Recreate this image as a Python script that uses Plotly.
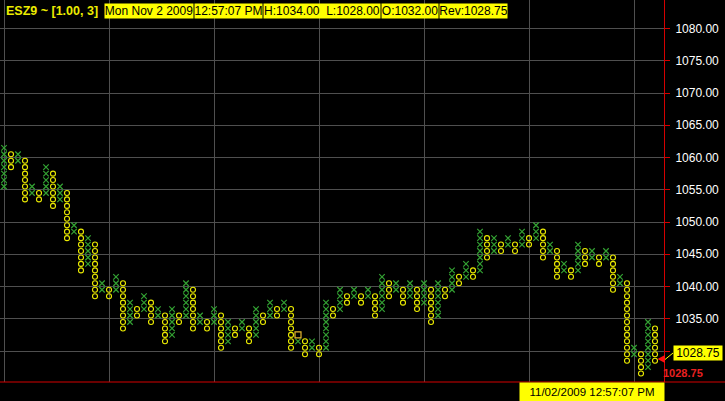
import plotly.graph_objects as go

# ---------------- data (point & figure columns, box size 1.00) ----------------
col_kind = ["X", "O"] * 47          # columns alternate, starting with X
col_low = [1055, 1058, 1059, 1053, 1054, 1053, 1054, 1052, 1053, 1047,
           1048, 1042, 1043, 1038, 1039, 1038, 1039, 1033, 1034, 1035,
           1036, 1034, 1035, 1031, 1032, 1034, 1035, 1033, 1034, 1033,
           1034, 1030, 1031, 1032, 1033, 1031, 1032, 1034, 1035, 1035,
           1036, 1030, 1031, 1029, 1030, 1029, 1030, 1035, 1036, 1037,
           1038, 1037, 1038, 1035, 1036, 1038, 1039, 1037, 1038, 1036,
           1037, 1034, 1035, 1038, 1039, 1040, 1041, 1041, 1042, 1044,
           1045, 1045, 1046, 1045, 1046, 1046, 1047, 1044, 1045, 1041,
           1042, 1041, 1042, 1043, 1044, 1043, 1044, 1039, 1040, 1028,
           1029, 1026, 1027, 1028]
col_high = [1061, 1060, 1060, 1059, 1055, 1054, 1058, 1057, 1055, 1054,
            1049, 1048, 1047, 1046, 1040, 1039, 1041, 1040, 1037, 1036,
            1038, 1037, 1036, 1035, 1036, 1035, 1040, 1039, 1035, 1034,
            1036, 1035, 1034, 1033, 1034, 1033, 1036, 1035, 1037, 1036,
            1037, 1036, 1032, 1031, 1031, 1030, 1037, 1036, 1039, 1038,
            1039, 1038, 1039, 1038, 1041, 1040, 1040, 1039, 1040, 1039,
            1040, 1039, 1040, 1039, 1042, 1041, 1043, 1042, 1048, 1047,
            1047, 1046, 1047, 1046, 1048, 1047, 1049, 1048, 1046, 1045,
            1043, 1042, 1046, 1045, 1045, 1044, 1045, 1044, 1041, 1040,
            1030, 1029, 1034, 1033]
square_col, square_box = 42, 1032     # highlighted box
BOX = 1.0

y_ticks = [1030, 1035, 1040, 1045, 1050, 1055, 1060, 1065, 1070, 1075, 1080]
x_grid = [0, 15, 30, 45, 60, 75, 90]

symbol_name = "ESZ9 ~ [1.00, 3]"
header_boxes = ["Mon Nov 2 2009", "12:57:07 PM",
                "H:1034.00\u00a0\u00a0L:1028.00", "O:1032.00", "Rev:1028.75"]
last_price = 1028.75
last_time = "11/02/2009 12:57:07 PM"

# ---------------- build marks ----------------
xx, xy, ox, oy = [], [], [], []
for i, (k, lo, hi) in enumerate(zip(col_kind, col_low, col_high)):
    for b in range(lo, hi + 1):
        if (i, b) == (square_col, square_box):
            continue
        if k == "X":
            xx.append(i); xy.append(b + BOX / 2)
        else:
            ox.append(i); oy.append(b + BOX / 2)

GREEN = "#33a233"
YELLOW = "#ecec00"
RED = "#d40000"
GRID = "#4f4f4f"
FONT = "Liberation Sans"

fig = go.Figure()
fig.add_trace(go.Scatter(x=xx, y=xy, mode="markers", hoverinfo="skip",
                         marker=dict(symbol="x-thin-open", size=5.5, color=GREEN,
                                     line=dict(color=GREEN, width=1.2))))
fig.add_trace(go.Scatter(x=ox, y=oy, mode="markers", hoverinfo="skip",
                         marker=dict(symbol="circle-open", size=5, color=YELLOW,
                                     line=dict(color=YELLOW, width=1.1))))
fig.add_trace(go.Scatter(x=[square_col], y=[square_box + BOX / 2], mode="markers",
                         hoverinfo="skip",
                         marker=dict(symbol="square-open", size=6, color="#e8b830",
                                     line=dict(color="#e8b830", width=1.2))))

W, H = 725, 401
L, R, T, B = 0, 61, 0, 19
pw, ph = W - L - R, H - T - B
px_per_col = 7.0
x0_col = 4.0
x_range = [-x0_col / px_per_col, (pw - x0_col) / px_per_col]
ppp = 6.45  # pixels per price point
y_top = 1030 + 351 / ppp
y_bot = 1030 - (ph - 351) / ppp


def py(ypix):
    return 1 - ypix / ph


def pxp(xpix):
    return xpix / pw


ann = []
ann.append(dict(text=f"<b>{symbol_name}</b>", x=pxp(4), y=py(11.5), xref="paper",
                yref="paper", xanchor="left", yanchor="middle", showarrow=False,
                font=dict(family=FONT, size=12.5, color=YELLOW)))
box_edges = [(104, 192), (194, 261), (263, 379), (381, 437), (439, 506)]
for txt, (a, b) in zip(header_boxes, box_edges):
    ann.append(dict(text=txt, x=pxp(a), y=py(11.5), xref="paper", yref="paper",
                    xanchor="left", yanchor="middle", showarrow=False,
                    width=b - a, height=14, align="center", valign="middle",
                    bgcolor="#ffff00", borderpad=0,
                    font=dict(family=FONT, size=12, color="black")))
ann.append(dict(text=last_time, x=pxp(519), y=py(392), xref="paper", yref="paper",
                xanchor="left", yanchor="middle", showarrow=False,
                width=144, height=18, align="center", valign="middle",
                bgcolor="#ffff00", borderpad=0,
                font=dict(family=FONT, size=11.5, color="black")))
ann.append(dict(text=f"{last_price:.2f}", x=pxp(673), y=py(352.5), xref="paper",
                yref="paper", xanchor="left", yanchor="middle", showarrow=False,
                width=48, height=14, align="center", valign="middle",
                bgcolor="#ffff00", borderpad=0,
                font=dict(family=FONT, size=12, color="black")))
ann.append(dict(text=f"<b>{last_price:.2f}</b>", x=pxp(661), y=py(372.5), xref="paper",
                yref="paper", xanchor="left", yanchor="middle", showarrow=False,
                font=dict(family=FONT, size=11, color="#e82020")))

half = 4 / ppp
shapes = [
    dict(type="line", xref="paper", yref="paper", x0=0, x1=W / pw, y0=0, y1=0,
         line=dict(color=RED, width=1)),
    dict(type="line", xref="paper", yref="paper", x0=pxp(665), x1=pxp(673),
         y0=py(359.5), y1=py(353), line=dict(color="#ffff00", width=1)),
    dict(type="path", xref="paper", yref="y",
         path=f"M {pxp(657.5)} {last_price} L {pxp(665)} {last_price + half} "
              f"L {pxp(665)} {last_price - half} Z",
         fillcolor="#ff1010", line=dict(color="#ff1010", width=0)),
]

fig.update_layout(
    width=W, height=H, autosize=False,
    margin=dict(l=L, r=R, t=T, b=B, pad=0),
    paper_bgcolor="black", plot_bgcolor="black",
    showlegend=False,
    annotations=ann, shapes=shapes,
    xaxis=dict(range=x_range, tickvals=x_grid, showticklabels=False, ticks="",
               showgrid=True, gridcolor=GRID, gridwidth=1, zeroline=False,
               showline=False, fixedrange=True),
    yaxis=dict(range=[y_bot, y_top], side="right", tickvals=y_ticks,
               ticktext=[f"{v:.2f}" for v in y_ticks],
               tickfont=dict(family=FONT, size=12, color="white"),
               ticks="outside", ticklen=5, tickcolor=RED, tickwidth=1,
               ticklabelstandoff=3,
               showline=True, linecolor=RED, linewidth=1, mirror=False,
               showgrid=True, gridcolor=GRID, gridwidth=1, zeroline=False,
               fixedrange=True),
)

fig.write_html("out.html", config={"displayModeBar": False},
               post_script="document.body.style.margin='0';document.body.style.background='black';")
